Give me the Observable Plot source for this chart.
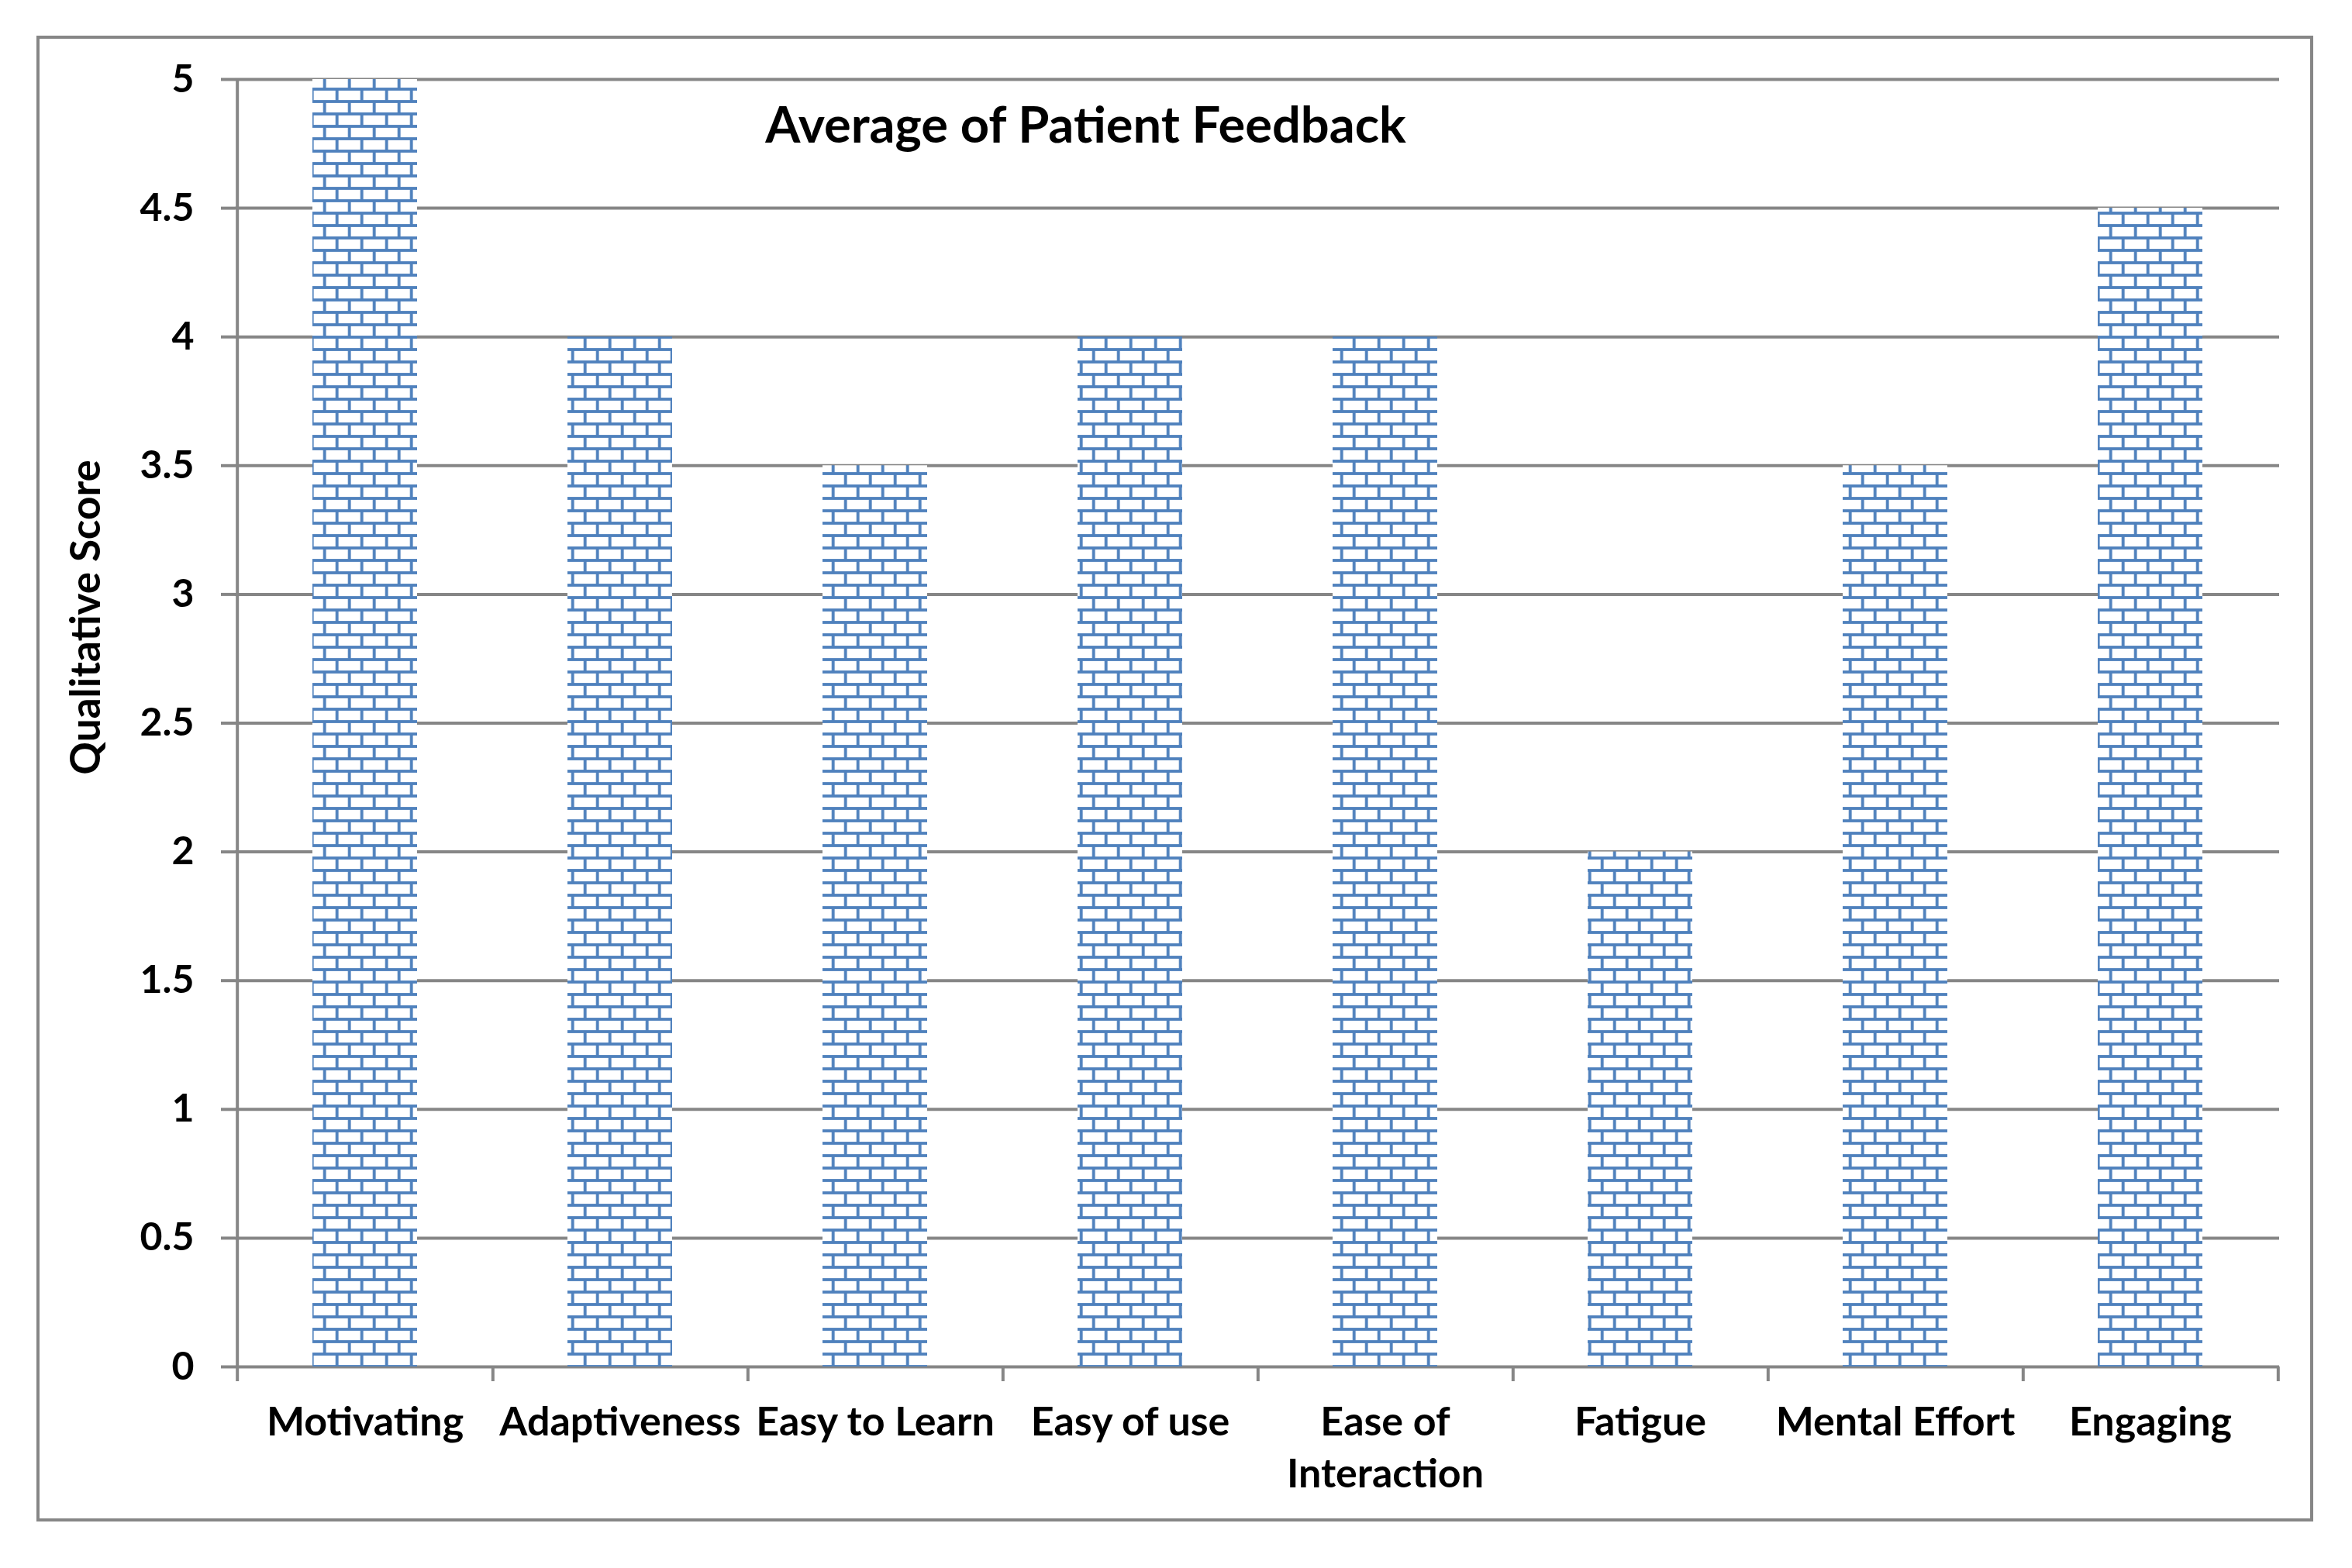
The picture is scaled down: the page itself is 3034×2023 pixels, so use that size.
<!DOCTYPE html>
<html><head><meta charset="utf-8">
<script src="https://cdn.jsdelivr.net/npm/d3@7"></script>
<script src="https://cdn.jsdelivr.net/npm/@observablehq/plot@0.6"></script>
<style>
html,body{margin:0;padding:0;background:#fff;}
#wrap{position:relative;width:3034px;height:2023px;overflow:hidden;}
#frame{position:absolute;left:47px;top:46px;width:2937px;height:1917px;border:4px solid #868686;box-sizing:border-box;}
#chart{position:absolute;left:0;top:0;}
</style></head><body>
<div id="wrap"><div id="frame"></div><div id="chart"></div></div>
<script>
const categories = ["Motivating","Adaptiveness","Easy to Learn","Easy of use","Ease of\nInteraction","Fatigue","Mental Effort","Engaging"];
const scores = [5, 4, 3.5, 4, 4, 2, 3.5, 4.5];
const yTicks = [0, 0.5, 1, 1.5, 2, 2.5, 3, 3.5, 4, 4.5, 5];
const title = "Average of Patient Feedback";
const yLabel = "Qualitative Score";

const data = categories.map((c, i) => ({category: c, score: scores[i]}));

const W = 3034, H = 2023, mL = 303, mR = 94, mT = 102, mB = 260;
const plotW = W - mL - mR;
const step = plotW / categories.length;
const grey = "#868686";
const font = "Lato, 'Open Sans', sans-serif";

const chart = Plot.plot({
  width: W, height: H,
  marginLeft: mL, marginRight: mR, marginTop: mT, marginBottom: mB,
  style: {fontFamily: font, background: "transparent", color: "#000"},
  x: {domain: categories, padding: 0},
  y: {domain: [0, 5]},
  marks: [
    Plot.gridY(yTicks, {stroke: grey, strokeOpacity: 1, strokeWidth: 4}),
    Plot.barY(data, {x: "category", y: "score", fill: "url(#brick)", insetLeft: 97, insetRight: 97}),
    Plot.ruleX([categories[0]], {x: d => d, dx: -step / 2, y1: 5, y2: 0, insetBottom: -19, stroke: grey, strokeWidth: 4}),
    Plot.ruleX(categories, {x: d => d, dx: step / 2, y1: 0, y2: 0, insetBottom: -19, stroke: grey, strokeWidth: 4}),
    Plot.axisY(yTicks, {tickSize: 18, tickPadding: 35, stroke: grey, strokeWidth: 4, fill: "#000",
      fontSize: 50, fontWeight: "bold", tickFormat: d => String(d), label: null}),
    Plot.axisX({tickSize: 0, tickPadding: 40, fill: "#000", fontSize: 52, fontWeight: "bold", lineHeight: 1.3, label: null}),
    Plot.text([title], {frameAnchor: "top", textAnchor: "middle", lineAnchor: "middle",
      dx: 1400 - (mL + plotW / 2), dy: 61, fontSize: 65, fontWeight: "bold", fill: "#000"}),
    Plot.text([yLabel], {frameAnchor: "left", textAnchor: "middle", lineAnchor: "middle", rotate: -90,
      dx: 112 - mL, dy: 796 - (mT + (H - mB)) / 2, fontSize: 53, fontWeight: "bold", fill: "#000"})
  ]
});

const svg = d3.select(chart.tagName.toLowerCase() === "svg" ? chart : chart.querySelector("svg"));
const defs = svg.insert("defs", ":first-child");
const pat = defs.append("pattern").attr("id", "brick").attr("patternUnits", "userSpaceOnUse")
  .attr("width", 32).attr("height", 32).attr("x", 2.7).attr("y", 3);
pat.append("rect").attr("width", 32).attr("height", 32).attr("fill", "#fff");
const bc = "#4F81BD", t = 3.8, h = t / 2;
[[0, 0, 32, h], [0, 32 - h, 32, h], [0, 16 - h, 32, t], [0, 0, h, 16], [32 - h, 0, h, 16], [16 - h, 16, t, 16]]
  .forEach(([x, y, w, hh]) => pat.append("rect").attr("x", x).attr("y", y).attr("width", w).attr("height", hh).attr("fill", bc));

document.getElementById("chart").appendChild(chart);
</script>
</body></html>
